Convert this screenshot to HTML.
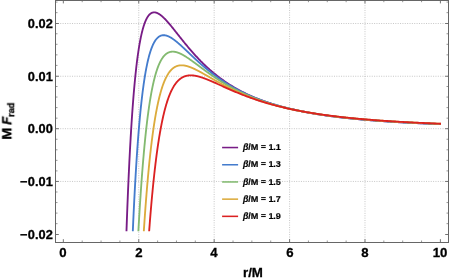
<!DOCTYPE html><html><head><meta charset="utf-8"><title>chart</title><style>
html,body{margin:0;padding:0;background:#fff;overflow:hidden}
html{width:449px;height:280px}
body{width:449px;height:280px;position:relative;overflow:hidden;font-family:"Liberation Sans",sans-serif;font-weight:bold;color:#000}
.t{position:absolute;white-space:nowrap;line-height:1;will-change:transform;-webkit-text-stroke:0.3px #000}
.yl{font-size:12.8px;text-align:right;width:60px;letter-spacing:0.1px}
.xl{font-size:13.2px;text-align:center;width:40px}
.lg{font-size:9.1px;letter-spacing:-0.08px;-webkit-text-stroke:0.2px #000;transform:scaleY(0.97);transform-origin:0 70%}

</style></head><body>
<svg width="449" height="280" viewBox="0 0 449 280" style="position:absolute;left:0;top:0">
<rect width="449" height="280" fill="#fff"/>
<g stroke="#b9b9b9" stroke-width="0.8" stroke-dasharray="1 1.36" fill="none"><line x1="138.75" y1="0.5" x2="138.75" y2="242.5"/><line x1="214.16" y1="0.5" x2="214.16" y2="242.5"/><line x1="289.58" y1="0.5" x2="289.58" y2="242.5"/><line x1="364.99" y1="0.5" x2="364.99" y2="242.5"/><line x1="55.5" y1="181.45" x2="448.5" y2="181.45"/><line x1="55.5" y1="128.70" x2="448.5" y2="128.70"/><line x1="55.5" y1="76.25" x2="448.5" y2="76.25"/><line x1="55.5" y1="23.50" x2="448.5" y2="23.50"/></g>
<g fill="none" stroke-width="1.85" stroke-linejoin="round" stroke-linecap="butt" transform="translate(0,0.4)">
<path stroke="#781c86" d="M126.47,230.87 L126.69,224.70 L126.91,218.69 L127.13,212.84 L127.35,207.14 L127.57,201.59 L127.79,196.19 L128.01,190.93 L128.23,185.80 L128.45,180.81 L128.67,175.95 L128.89,171.21 L129.11,166.60 L129.33,162.10 L129.55,157.73 L129.77,153.46 L129.99,149.31 L130.21,145.27 L130.43,141.33 L130.65,137.49 L130.87,133.75 L131.09,130.11 L131.31,126.56 L131.53,123.10 L131.75,119.74 L131.97,116.46 L132.19,113.27 L132.41,110.16 L132.63,107.13 L132.85,104.18 L133.07,101.30 L133.29,98.51 L133.51,95.78 L133.73,93.13 L133.95,90.54 L134.17,88.03 L134.39,85.58 L134.61,83.19 L134.83,80.87 L135.05,78.61 L135.27,76.41 L135.49,74.27 L135.71,72.18 L135.93,70.15 L136.14,68.18 L136.36,66.26 L136.58,64.39 L136.80,62.57 L137.02,60.80 L137.24,59.08 L137.46,57.41 L137.68,55.78 L137.90,54.20 L138.12,52.66 L138.34,51.17 L138.56,49.71 L138.78,48.30 L139.00,46.93 L139.22,45.59 L139.44,44.30 L139.66,43.04 L139.88,41.82 L140.10,40.63 L140.32,39.48 L140.54,38.37 L140.76,37.28 L140.98,36.23 L141.20,35.21 L141.42,34.22 L141.64,33.26 L141.86,32.33 L142.08,31.43 L142.30,30.56 L142.52,29.71 L142.74,28.90 L142.96,28.11 L143.18,27.34 L143.40,26.60 L143.62,25.88 L143.84,25.19 L144.06,24.52 L144.28,23.88 L144.50,23.26 L144.72,22.65 L144.94,22.07 L145.16,21.52 L145.38,20.98 L145.60,20.46 L145.81,19.96 L146.03,19.48 L146.25,19.02 L146.47,18.58 L146.69,18.16 L146.91,17.75 L147.13,17.36 L147.35,16.99 L147.57,16.63 L147.79,16.29 L148.01,15.96 L148.23,15.65 L148.45,15.36 L148.67,15.08 L148.89,14.81 L149.11,14.56 L149.33,14.32 L149.55,14.10 L149.77,13.88 L149.99,13.68 L150.21,13.50 L150.43,13.32 L150.65,13.16 L150.87,13.01 L151.09,12.87 L151.31,12.74 L151.53,12.62 L151.75,12.51 L151.97,12.42 L152.19,12.33 L152.41,12.25 L152.63,12.18 L152.85,12.13 L153.07,12.08 L153.29,12.04 L153.51,12.01 L153.73,11.98 L153.95,11.97 L154.17,11.96 L154.39,11.97 L154.61,11.97 L154.83,11.99 L155.05,12.02 L155.27,12.05 L155.48,12.09 L155.70,12.14 L155.92,12.19 L156.14,12.25 L156.36,12.31 L156.58,12.39 L156.80,12.47 L157.02,12.55 L157.24,12.64 L157.46,12.74 L157.68,12.84 L157.90,12.95 L158.12,13.06 L158.34,13.18 L158.56,13.30 L158.78,13.43 L159.00,13.56 L159.22,13.70 L159.44,13.84 L159.66,13.99 L159.88,14.14 L160.10,14.29 L160.32,14.45 L160.54,14.62 L160.76,14.78 L160.98,14.95 L161.20,15.13 L161.42,15.31 L161.64,15.49 L161.86,15.68 L162.08,15.86 L162.30,16.06 L162.52,16.25 L162.74,16.45 L162.96,16.65 L163.18,16.86 L163.40,17.06 L163.62,17.27 L163.84,17.49 L164.06,17.70 L164.28,17.92 L164.50,18.14 L164.72,18.36 L164.94,18.59 L165.15,18.81 L165.37,19.04 L165.59,19.27 L165.81,19.51 L166.03,19.74 L166.25,19.98 L166.47,20.22 L166.69,20.46 L166.91,20.70 L167.13,20.95 L167.35,21.19 L167.57,21.44 L167.79,21.69 L168.01,21.94 L168.23,22.20 L168.45,22.45 L168.67,22.70 L168.89,22.96 L169.11,23.22 L169.33,23.48 L169.55,23.74 L169.77,24.00 L169.99,24.26 L170.21,24.52 L170.43,24.79 L170.65,25.05 L170.87,25.32 L171.09,25.59 L171.31,25.85 L171.53,26.12 L171.75,26.39 L171.97,26.66 L172.19,26.93 L172.41,27.20 L172.63,27.47 L172.85,27.75 L173.07,28.02 L173.29,28.29 L173.51,28.57 L173.73,28.84 L173.95,29.12 L174.17,29.39 L174.39,29.67 L174.61,29.94 L174.82,30.22 L175.04,30.50 L175.26,30.77 L175.48,31.05 L175.70,31.33 L175.92,31.60 L176.14,31.88 L176.36,32.16 L176.58,32.44 L176.80,32.71 L177.02,32.99 L177.24,33.27 L177.46,33.55 L177.68,33.83 L177.90,34.10 L178.12,34.38 L178.34,34.66 L178.56,34.94 L178.78,35.22 L179.00,35.49 L179.22,35.77 L179.44,36.05 L179.66,36.33 L179.88,36.60 L180.10,36.88 L180.32,37.16 L180.54,37.43 L180.76,37.71 L180.98,37.99 L181.20,38.26 L181.42,38.54 L181.64,38.81 L181.86,39.09 L182.08,39.36 L182.30,39.64 L182.52,39.91 L182.74,40.18 L182.96,40.46 L183.18,40.73 L183.40,41.00 L183.62,41.27 L183.84,41.55 L184.06,41.82 L184.27,42.09 L184.49,42.36 L184.71,42.63 L184.93,42.90 L185.15,43.17 L185.37,43.43 L185.59,43.70 L185.81,43.97 L186.03,44.24 L186.25,44.50 L186.47,44.77 L186.69,45.04 L186.91,45.30 L187.13,45.56 L187.35,45.83 L187.57,46.09 L187.79,46.35 L188.01,46.62 L188.23,46.88 L188.45,47.14 L188.67,47.40 L188.89,47.66 L189.11,47.92 L189.33,48.18 L189.55,48.44 L189.77,48.69 L189.99,48.95 L190.21,49.21 L190.43,49.46 L190.65,49.72 L190.87,49.97 L191.09,50.23 L191.31,50.48 L191.53,50.73 L191.75,50.98 L191.97,51.23 L192.19,51.48 L192.41,51.73 L192.63,51.98 L192.85,52.23 L193.07,52.48 L193.29,52.73 L193.51,52.97 L193.73,53.22 L193.94,53.46 L194.16,53.71 L194.38,53.95 L194.60,54.20 L194.82,54.44 L195.04,54.68 L195.26,54.92 L195.48,55.16 L195.70,55.40 L195.92,55.64 L196.14,55.88 L196.36,56.11 L196.58,56.35 L196.80,56.59 L197.02,56.82 L197.24,57.06 L197.46,57.29 L197.68,57.53 L197.90,57.76 L198.12,57.99 L198.34,58.22 L198.56,58.45 L198.78,58.68 L199.00,58.91 L199.22,59.14 L199.44,59.37 L199.66,59.59 L199.88,59.82 L200.10,60.04 L200.32,60.27 L200.54,60.49 L200.76,60.72 L200.98,60.94 L201.20,61.16 L201.42,61.38 L201.64,61.60 L201.86,61.82 L202.08,62.04 L202.30,62.26 L202.52,62.48 L202.74,62.69 L202.96,62.91 L203.18,63.13 L203.40,63.34 L203.61,63.55 L203.83,63.77 L204.05,63.98 L204.27,64.19 L204.49,64.40 L204.71,64.61 L204.93,64.82 L205.15,65.03 L205.37,65.24 L205.59,65.45 L205.81,65.65 L206.03,65.86 L206.25,66.07 L206.47,66.27 L206.69,66.48 L206.91,66.68 L207.13,66.88 L207.35,67.08 L207.57,67.28 L207.79,67.49 L208.01,67.69 L208.23,67.88 L208.45,68.08 L208.67,68.28 L208.89,68.48 L209.11,68.67 L209.33,68.87 L209.55,69.07 L209.77,69.26 L209.99,69.45 L210.21,69.65 L210.43,69.84 L210.65,70.03 L210.87,70.22 L211.09,70.41 L211.31,70.60 L211.53,70.79 L211.75,70.98 L211.97,71.17 L212.19,71.35 L212.41,71.54 L212.63,71.73 L212.85,71.91 L213.07,72.09 L213.28,72.28 L213.50,72.46 L213.72,72.64 L213.94,72.83 L214.16,73.01 L215.30,73.93 L216.44,74.85 L217.58,75.74 L218.72,76.62 L219.86,77.48 L221.00,78.32 L222.14,79.15 L223.28,79.96 L224.42,80.76 L225.56,81.54 L226.70,82.31 L227.84,83.06 L228.98,83.80 L230.12,84.53 L231.26,85.24 L232.40,85.93 L233.54,86.62 L234.68,87.29 L235.82,87.94 L236.96,88.59 L238.10,89.22 L239.24,89.84 L240.38,90.45 L241.52,91.05 L242.66,91.63 L243.80,92.21 L244.94,92.77 L246.08,93.32 L247.22,93.87 L248.36,94.40 L249.49,94.92 L250.63,95.43 L251.77,95.94 L252.91,96.43 L254.05,96.92 L255.19,97.39 L256.33,97.86 L257.47,98.32 L258.61,98.76 L259.75,99.21 L260.89,99.64 L262.03,100.06 L263.17,100.48 L264.31,100.89 L265.45,101.29 L266.59,101.69 L267.73,102.08 L268.87,102.46 L270.01,102.83 L271.15,103.20 L272.29,103.56 L273.43,103.91 L274.57,104.26 L275.71,104.60 L276.85,104.94 L277.99,105.27 L279.13,105.59 L280.27,105.91 L281.41,106.22 L282.55,106.53 L283.69,106.83 L284.83,107.13 L285.97,107.42 L287.11,107.70 L288.24,107.99 L289.38,108.26 L290.52,108.53 L291.66,108.80 L292.80,109.06 L293.94,109.32 L295.08,109.58 L296.22,109.83 L297.36,110.07 L298.50,110.31 L299.64,110.55 L300.78,110.78 L301.92,111.01 L303.06,111.24 L304.20,111.46 L305.34,111.68 L306.48,111.89 L307.62,112.11 L308.76,112.31 L309.90,112.52 L311.04,112.72 L312.18,112.92 L313.32,113.11 L314.46,113.30 L315.60,113.49 L316.74,113.68 L317.88,113.86 L319.02,114.04 L320.16,114.22 L321.30,114.39 L322.44,114.56 L323.58,114.73 L324.72,114.90 L325.86,115.06 L326.99,115.22 L328.13,115.38 L329.27,115.54 L330.41,115.69 L331.55,115.84 L332.69,115.99 L333.83,116.14 L334.97,116.29 L336.11,116.43 L337.25,116.57 L338.39,116.71 L339.53,116.84 L340.67,116.98 L341.81,117.11 L342.95,117.24 L344.09,117.37 L345.23,117.49 L346.37,117.62 L347.51,117.74 L348.65,117.86 L349.79,117.98 L350.93,118.10 L352.07,118.22 L353.21,118.33 L354.35,118.44 L355.49,118.55 L356.63,118.66 L357.77,118.77 L358.91,118.88 L360.05,118.98 L361.19,119.09 L362.33,119.19 L363.47,119.29 L364.61,119.39 L365.74,119.49 L366.88,119.58 L368.02,119.68 L369.16,119.77 L370.30,119.86 L371.44,119.95 L372.58,120.04 L373.72,120.13 L374.86,120.22 L376.00,120.31 L377.14,120.39 L378.28,120.48 L379.42,120.56 L380.56,120.64 L381.70,120.72 L382.84,120.80 L383.98,120.88 L385.12,120.96 L386.26,121.03 L387.40,121.11 L388.54,121.18 L389.68,121.26 L390.82,121.33 L391.96,121.40 L393.10,121.47 L394.24,121.54 L395.38,121.61 L396.52,121.68 L397.66,121.75 L398.80,121.81 L399.94,121.88 L401.08,121.94 L402.22,122.01 L403.36,122.07 L404.49,122.13 L405.63,122.20 L406.77,122.26 L407.91,122.32 L409.05,122.38 L410.19,122.43 L411.33,122.49 L412.47,122.55 L413.61,122.61 L414.75,122.66 L415.89,122.72 L417.03,122.77 L418.17,122.82 L419.31,122.88 L420.45,122.93 L421.59,122.98 L422.73,123.03 L423.87,123.08 L425.01,123.13 L426.15,123.18 L427.29,123.23 L428.43,123.28 L429.57,123.33 L430.71,123.37 L431.85,123.42 L432.99,123.47 L434.13,123.51 L435.27,123.56 L436.41,123.60 L437.55,123.65 L438.69,123.69 L439.83,123.73 L440.97,123.77"/>
<path stroke="#447ccd" d="M132.81,230.86 L133.01,226.22 L133.21,221.68 L133.42,217.24 L133.62,212.89 L133.83,208.64 L134.03,204.49 L134.23,200.42 L134.44,196.44 L134.64,192.55 L134.85,188.74 L135.05,185.02 L135.25,181.37 L135.46,177.81 L135.66,174.32 L135.87,170.91 L136.07,167.57 L136.27,164.31 L136.48,161.12 L136.68,157.99 L136.88,154.93 L137.09,151.94 L137.29,149.02 L137.50,146.16 L137.70,143.36 L137.90,140.62 L138.11,137.94 L138.31,135.32 L138.52,132.76 L138.72,130.25 L138.92,127.80 L139.13,125.40 L139.33,123.05 L139.54,120.76 L139.74,118.51 L139.94,116.32 L140.15,114.17 L140.35,112.07 L140.55,110.02 L140.76,108.01 L140.96,106.05 L141.17,104.13 L141.37,102.25 L141.57,100.42 L141.78,98.62 L141.98,96.87 L142.19,95.15 L142.39,93.48 L142.59,91.84 L142.80,90.24 L143.00,88.67 L143.21,87.14 L143.41,85.65 L143.61,84.18 L143.82,82.76 L144.02,81.36 L144.23,80.00 L144.43,78.67 L144.63,77.36 L144.84,76.09 L145.04,74.85 L145.24,73.64 L145.45,72.46 L145.65,71.30 L145.86,70.17 L146.06,69.07 L146.26,67.99 L146.47,66.94 L146.67,65.92 L146.88,64.92 L147.08,63.94 L147.28,62.99 L147.49,62.06 L147.69,61.15 L147.90,60.27 L148.10,59.41 L148.30,58.57 L148.51,57.75 L148.71,56.95 L148.91,56.17 L149.12,55.41 L149.32,54.68 L149.53,53.96 L149.73,53.25 L149.93,52.57 L150.14,51.91 L150.34,51.26 L150.55,50.63 L150.75,50.02 L150.95,49.42 L151.16,48.84 L151.36,48.28 L151.57,47.73 L151.77,47.20 L151.97,46.68 L152.18,46.18 L152.38,45.69 L152.59,45.22 L152.79,44.76 L152.99,44.31 L153.20,43.88 L153.40,43.46 L153.60,43.06 L153.81,42.66 L154.01,42.28 L154.22,41.91 L154.42,41.55 L154.62,41.21 L154.83,40.88 L155.03,40.55 L155.24,40.24 L155.44,39.94 L155.64,39.65 L155.85,39.37 L156.05,39.10 L156.26,38.84 L156.46,38.59 L156.66,38.35 L156.87,38.12 L157.07,37.90 L157.27,37.69 L157.48,37.49 L157.68,37.29 L157.89,37.11 L158.09,36.93 L158.29,36.76 L158.50,36.60 L158.70,36.45 L158.91,36.30 L159.11,36.17 L159.31,36.04 L159.52,35.91 L159.72,35.80 L159.93,35.69 L160.13,35.59 L160.33,35.50 L160.54,35.41 L160.74,35.33 L160.95,35.25 L161.15,35.18 L161.35,35.12 L161.56,35.06 L161.76,35.01 L161.96,34.97 L162.17,34.93 L162.37,34.89 L162.58,34.87 L162.78,34.84 L162.98,34.83 L163.19,34.81 L163.39,34.81 L163.60,34.80 L163.80,34.80 L164.00,34.81 L164.21,34.82 L164.41,34.84 L164.62,34.86 L164.82,34.88 L165.02,34.91 L165.23,34.95 L165.43,34.98 L165.63,35.03 L165.84,35.07 L166.04,35.12 L166.25,35.17 L166.45,35.23 L166.65,35.29 L166.86,35.35 L167.06,35.42 L167.27,35.49 L167.47,35.57 L167.67,35.64 L167.88,35.72 L168.08,35.81 L168.29,35.89 L168.49,35.98 L168.69,36.08 L168.90,36.17 L169.10,36.27 L169.31,36.37 L169.51,36.47 L169.71,36.58 L169.92,36.69 L170.12,36.80 L170.32,36.91 L170.53,37.03 L170.73,37.15 L170.94,37.27 L171.14,37.39 L171.34,37.52 L171.55,37.64 L171.75,37.77 L171.96,37.90 L172.16,38.04 L172.36,38.17 L172.57,38.31 L172.77,38.45 L172.98,38.59 L173.18,38.73 L173.38,38.88 L173.59,39.02 L173.79,39.17 L174.00,39.32 L174.20,39.47 L174.40,39.62 L174.61,39.78 L174.81,39.93 L175.01,40.09 L175.22,40.24 L175.42,40.40 L175.63,40.56 L175.83,40.73 L176.03,40.89 L176.24,41.05 L176.44,41.22 L176.65,41.39 L176.85,41.55 L177.05,41.72 L177.26,41.89 L177.46,42.06 L177.67,42.23 L177.87,42.41 L178.07,42.58 L178.28,42.76 L178.48,42.93 L178.68,43.11 L178.89,43.28 L179.09,43.46 L179.30,43.64 L179.50,43.82 L179.70,44.00 L179.91,44.18 L180.11,44.36 L180.32,44.55 L180.52,44.73 L180.72,44.91 L180.93,45.10 L181.13,45.28 L181.34,45.47 L181.54,45.65 L181.74,45.84 L181.95,46.02 L182.15,46.21 L182.36,46.40 L182.56,46.59 L182.76,46.78 L182.97,46.96 L183.17,47.15 L183.37,47.34 L183.58,47.53 L183.78,47.72 L183.99,47.91 L184.19,48.10 L184.39,48.30 L184.60,48.49 L184.80,48.68 L185.01,48.87 L185.21,49.06 L185.41,49.25 L185.62,49.45 L185.82,49.64 L186.03,49.83 L186.23,50.02 L186.43,50.22 L186.64,50.41 L186.84,50.60 L187.04,50.80 L187.25,50.99 L187.45,51.18 L187.66,51.38 L187.86,51.57 L188.06,51.76 L188.27,51.96 L188.47,52.15 L188.68,52.35 L188.88,52.54 L189.08,52.73 L189.29,52.93 L189.49,53.12 L189.70,53.31 L189.90,53.51 L190.10,53.70 L190.31,53.89 L190.51,54.09 L190.72,54.28 L190.92,54.47 L191.12,54.67 L191.33,54.86 L191.53,55.05 L191.73,55.24 L191.94,55.44 L192.14,55.63 L192.35,55.82 L192.55,56.01 L192.75,56.20 L192.96,56.40 L193.16,56.59 L193.37,56.78 L193.57,56.97 L193.77,57.16 L193.98,57.35 L194.18,57.54 L194.39,57.73 L194.59,57.92 L194.79,58.11 L195.00,58.30 L195.20,58.49 L195.40,58.68 L195.61,58.87 L195.81,59.05 L196.02,59.24 L196.22,59.43 L196.42,59.62 L196.63,59.80 L196.83,59.99 L197.04,60.18 L197.24,60.36 L197.44,60.55 L197.65,60.74 L197.85,60.92 L198.06,61.11 L198.26,61.29 L198.46,61.48 L198.67,61.66 L198.87,61.84 L199.08,62.03 L199.28,62.21 L199.48,62.39 L199.69,62.58 L199.89,62.76 L200.09,62.94 L200.30,63.12 L200.50,63.30 L200.71,63.48 L200.91,63.66 L201.11,63.84 L201.32,64.02 L201.52,64.20 L201.73,64.38 L201.93,64.56 L202.13,64.74 L202.34,64.92 L202.54,65.09 L202.75,65.27 L202.95,65.45 L203.15,65.62 L203.36,65.80 L203.56,65.97 L203.76,66.15 L203.97,66.32 L204.17,66.50 L204.38,66.67 L204.58,66.85 L204.78,67.02 L204.99,67.19 L205.19,67.36 L205.40,67.54 L205.60,67.71 L205.80,67.88 L206.01,68.05 L206.21,68.22 L206.42,68.39 L206.62,68.56 L206.82,68.73 L207.03,68.90 L207.23,69.06 L207.44,69.23 L207.64,69.40 L207.84,69.57 L208.05,69.73 L208.25,69.90 L208.45,70.06 L208.66,70.23 L208.86,70.39 L209.07,70.56 L209.27,70.72 L209.47,70.89 L209.68,71.05 L209.88,71.21 L210.09,71.37 L210.29,71.54 L210.49,71.70 L210.70,71.86 L210.90,72.02 L211.11,72.18 L211.31,72.34 L211.51,72.50 L211.72,72.66 L211.92,72.81 L212.12,72.97 L212.33,73.13 L212.53,73.29 L212.74,73.44 L212.94,73.60 L213.14,73.76 L213.35,73.91 L213.55,74.07 L213.76,74.22 L213.96,74.37 L214.16,74.53 L215.30,75.38 L216.44,76.22 L217.58,77.04 L218.72,77.85 L219.86,78.65 L221.00,79.43 L222.14,80.20 L223.28,80.96 L224.42,81.70 L225.56,82.44 L226.70,83.16 L227.84,83.86 L228.98,84.56 L230.12,85.24 L231.26,85.91 L232.40,86.57 L233.54,87.22 L234.68,87.85 L235.82,88.48 L236.96,89.09 L238.10,89.70 L239.24,90.29 L240.38,90.87 L241.52,91.44 L242.66,92.00 L243.80,92.55 L244.94,93.10 L246.08,93.63 L247.22,94.15 L248.36,94.66 L249.49,95.17 L250.63,95.66 L251.77,96.15 L252.91,96.62 L254.05,97.09 L255.19,97.55 L256.33,98.01 L257.47,98.45 L258.61,98.89 L259.75,99.32 L260.89,99.74 L262.03,100.15 L263.17,100.56 L264.31,100.96 L265.45,101.35 L266.59,101.73 L267.73,102.11 L268.87,102.49 L270.01,102.85 L271.15,103.21 L272.29,103.56 L273.43,103.91 L274.57,104.25 L275.71,104.59 L276.85,104.92 L277.99,105.24 L279.13,105.56 L280.27,105.87 L281.41,106.18 L282.55,106.48 L283.69,106.78 L284.83,107.07 L285.97,107.36 L287.11,107.64 L288.24,107.92 L289.38,108.19 L290.52,108.46 L291.66,108.72 L292.80,108.98 L293.94,109.24 L295.08,109.49 L296.22,109.74 L297.36,109.98 L298.50,110.22 L299.64,110.45 L300.78,110.68 L301.92,110.91 L303.06,111.13 L304.20,111.36 L305.34,111.57 L306.48,111.78 L307.62,111.99 L308.76,112.20 L309.90,112.40 L311.04,112.60 L312.18,112.80 L313.32,113.00 L314.46,113.19 L315.60,113.37 L316.74,113.56 L317.88,113.74 L319.02,113.92 L320.16,114.10 L321.30,114.27 L322.44,114.44 L323.58,114.61 L324.72,114.77 L325.86,114.94 L326.99,115.10 L328.13,115.26 L329.27,115.41 L330.41,115.57 L331.55,115.72 L332.69,115.87 L333.83,116.01 L334.97,116.16 L336.11,116.30 L337.25,116.44 L338.39,116.58 L339.53,116.72 L340.67,116.85 L341.81,116.98 L342.95,117.11 L344.09,117.24 L345.23,117.37 L346.37,117.49 L347.51,117.62 L348.65,117.74 L349.79,117.86 L350.93,117.97 L352.07,118.09 L353.21,118.21 L354.35,118.32 L355.49,118.43 L356.63,118.54 L357.77,118.65 L358.91,118.75 L360.05,118.86 L361.19,118.96 L362.33,119.07 L363.47,119.17 L364.61,119.27 L365.74,119.36 L366.88,119.46 L368.02,119.56 L369.16,119.65 L370.30,119.74 L371.44,119.84 L372.58,119.93 L373.72,120.02 L374.86,120.10 L376.00,120.19 L377.14,120.28 L378.28,120.36 L379.42,120.44 L380.56,120.53 L381.70,120.61 L382.84,120.69 L383.98,120.77 L385.12,120.85 L386.26,120.92 L387.40,121.00 L388.54,121.07 L389.68,121.15 L390.82,121.22 L391.96,121.29 L393.10,121.36 L394.24,121.44 L395.38,121.50 L396.52,121.57 L397.66,121.64 L398.80,121.71 L399.94,121.77 L401.08,121.84 L402.22,121.90 L403.36,121.97 L404.49,122.03 L405.63,122.09 L406.77,122.15 L407.91,122.21 L409.05,122.27 L410.19,122.33 L411.33,122.39 L412.47,122.45 L413.61,122.51 L414.75,122.56 L415.89,122.62 L417.03,122.67 L418.17,122.73 L419.31,122.78 L420.45,122.83 L421.59,122.89 L422.73,122.94 L423.87,122.99 L425.01,123.04 L426.15,123.09 L427.29,123.14 L428.43,123.19 L429.57,123.24 L430.71,123.28 L431.85,123.33 L432.99,123.38 L434.13,123.42 L435.27,123.47 L436.41,123.51 L437.55,123.56 L438.69,123.60 L439.83,123.65 L440.97,123.69"/>
<path stroke="#83ba70" d="M138.37,230.90 L138.56,227.50 L138.75,224.16 L138.94,220.87 L139.13,217.64 L139.32,214.45 L139.51,211.32 L139.70,208.24 L139.89,205.21 L140.08,202.23 L140.27,199.30 L140.46,196.42 L140.65,193.59 L140.84,190.80 L141.03,188.06 L141.22,185.36 L141.41,182.71 L141.60,180.11 L141.79,177.54 L141.98,175.02 L142.17,172.54 L142.36,170.11 L142.55,167.71 L142.74,165.36 L142.93,163.04 L143.12,160.77 L143.31,158.53 L143.50,156.33 L143.69,154.17 L143.88,152.04 L144.06,149.95 L144.25,147.90 L144.44,145.88 L144.63,143.90 L144.82,141.95 L145.01,140.04 L145.20,138.16 L145.39,136.31 L145.58,134.49 L145.77,132.71 L145.96,130.96 L146.15,129.23 L146.34,127.54 L146.53,125.88 L146.72,124.25 L146.91,122.64 L147.10,121.07 L147.29,119.52 L147.48,118.00 L147.67,116.51 L147.86,115.04 L148.05,113.61 L148.24,112.19 L148.43,110.81 L148.62,109.44 L148.81,108.11 L149.00,106.79 L149.19,105.50 L149.38,104.24 L149.57,103.00 L149.76,101.78 L149.95,100.58 L150.14,99.41 L150.33,98.25 L150.52,97.12 L150.71,96.01 L150.90,94.92 L151.09,93.86 L151.28,92.81 L151.47,91.78 L151.66,90.77 L151.85,89.78 L152.04,88.81 L152.23,87.86 L152.42,86.93 L152.61,86.01 L152.80,85.12 L152.99,84.24 L153.18,83.37 L153.37,82.53 L153.56,81.70 L153.75,80.89 L153.94,80.09 L154.13,79.31 L154.32,78.55 L154.51,77.80 L154.70,77.07 L154.89,76.35 L155.08,75.65 L155.27,74.96 L155.46,74.28 L155.65,73.62 L155.84,72.98 L156.03,72.34 L156.22,71.72 L156.41,71.12 L156.60,70.52 L156.79,69.94 L156.98,69.37 L157.17,68.82 L157.36,68.27 L157.55,67.74 L157.74,67.22 L157.93,66.71 L158.12,66.22 L158.31,65.73 L158.50,65.26 L158.69,64.79 L158.88,64.34 L159.07,63.90 L159.26,63.47 L159.45,63.04 L159.64,62.63 L159.83,62.23 L160.02,61.84 L160.21,61.46 L160.40,61.08 L160.59,60.72 L160.78,60.36 L160.97,60.02 L161.16,59.68 L161.35,59.35 L161.54,59.03 L161.73,58.72 L161.92,58.42 L162.11,58.12 L162.30,57.84 L162.49,57.56 L162.68,57.29 L162.87,57.02 L163.06,56.77 L163.25,56.52 L163.44,56.28 L163.63,56.04 L163.82,55.81 L164.01,55.59 L164.20,55.38 L164.39,55.17 L164.58,54.97 L164.77,54.78 L164.96,54.59 L165.15,54.41 L165.34,54.23 L165.53,54.06 L165.72,53.90 L165.91,53.74 L166.10,53.59 L166.29,53.44 L166.48,53.30 L166.67,53.17 L166.86,53.04 L167.05,52.91 L167.24,52.80 L167.43,52.68 L167.62,52.57 L167.81,52.47 L168.00,52.37 L168.19,52.27 L168.38,52.18 L168.57,52.10 L168.76,52.02 L168.95,51.94 L169.14,51.87 L169.33,51.80 L169.52,51.74 L169.71,51.68 L169.90,51.63 L170.09,51.58 L170.28,51.53 L170.47,51.49 L170.66,51.45 L170.85,51.41 L171.04,51.38 L171.23,51.35 L171.42,51.33 L171.61,51.31 L171.80,51.29 L171.99,51.27 L172.18,51.26 L172.37,51.26 L172.56,51.25 L172.75,51.25 L172.94,51.25 L173.13,51.26 L173.32,51.26 L173.51,51.28 L173.70,51.29 L173.89,51.31 L174.08,51.32 L174.27,51.35 L174.46,51.37 L174.65,51.40 L174.84,51.43 L175.03,51.46 L175.22,51.50 L175.41,51.53 L175.60,51.57 L175.79,51.62 L175.98,51.66 L176.17,51.71 L176.36,51.76 L176.55,51.81 L176.74,51.86 L176.93,51.92 L177.12,51.98 L177.31,52.04 L177.50,52.10 L177.69,52.16 L177.88,52.23 L178.07,52.29 L178.26,52.36 L178.45,52.43 L178.64,52.51 L178.83,52.58 L179.02,52.66 L179.21,52.74 L179.40,52.82 L179.59,52.90 L179.78,52.98 L179.97,53.07 L180.16,53.15 L180.35,53.24 L180.54,53.33 L180.73,53.42 L180.92,53.51 L181.11,53.60 L181.30,53.70 L181.49,53.79 L181.68,53.89 L181.87,53.99 L182.06,54.09 L182.25,54.19 L182.44,54.29 L182.63,54.40 L182.82,54.50 L183.01,54.61 L183.20,54.71 L183.39,54.82 L183.58,54.93 L183.77,55.04 L183.96,55.15 L184.15,55.26 L184.34,55.38 L184.53,55.49 L184.72,55.60 L184.91,55.72 L185.10,55.84 L185.29,55.95 L185.48,56.07 L185.67,56.19 L185.86,56.31 L186.05,56.43 L186.24,56.55 L186.43,56.67 L186.62,56.79 L186.81,56.92 L187.00,57.04 L187.19,57.17 L187.38,57.29 L187.57,57.42 L187.76,57.54 L187.95,57.67 L188.14,57.80 L188.33,57.93 L188.52,58.06 L188.71,58.19 L188.90,58.32 L189.09,58.45 L189.28,58.58 L189.47,58.71 L189.66,58.84 L189.85,58.97 L190.04,59.11 L190.23,59.24 L190.42,59.37 L190.61,59.51 L190.80,59.64 L190.99,59.78 L191.18,59.91 L191.37,60.05 L191.56,60.18 L191.75,60.32 L191.94,60.46 L192.13,60.59 L192.32,60.73 L192.51,60.87 L192.70,61.00 L192.89,61.14 L193.08,61.28 L193.27,61.42 L193.46,61.56 L193.65,61.70 L193.84,61.84 L194.03,61.97 L194.22,62.11 L194.41,62.25 L194.60,62.39 L194.79,62.53 L194.98,62.67 L195.17,62.81 L195.36,62.95 L195.55,63.09 L195.74,63.24 L195.93,63.38 L196.12,63.52 L196.31,63.66 L196.50,63.80 L196.69,63.94 L196.88,64.08 L197.07,64.22 L197.26,64.36 L197.45,64.51 L197.64,64.65 L197.83,64.79 L198.02,64.93 L198.21,65.07 L198.40,65.21 L198.59,65.35 L198.78,65.50 L198.97,65.64 L199.16,65.78 L199.35,65.92 L199.54,66.06 L199.73,66.20 L199.92,66.35 L200.11,66.49 L200.30,66.63 L200.49,66.77 L200.68,66.91 L200.87,67.05 L201.06,67.19 L201.25,67.33 L201.44,67.48 L201.63,67.62 L201.82,67.76 L202.01,67.90 L202.20,68.04 L202.39,68.18 L202.58,68.32 L202.77,68.46 L202.96,68.60 L203.15,68.74 L203.34,68.88 L203.53,69.02 L203.72,69.16 L203.91,69.30 L204.10,69.44 L204.29,69.58 L204.48,69.72 L204.67,69.86 L204.86,70.00 L205.05,70.14 L205.24,70.27 L205.43,70.41 L205.62,70.55 L205.81,70.69 L206.00,70.83 L206.19,70.96 L206.38,71.10 L206.57,71.24 L206.76,71.38 L206.95,71.51 L207.14,71.65 L207.33,71.79 L207.52,71.92 L207.71,72.06 L207.89,72.20 L208.08,72.33 L208.27,72.47 L208.46,72.60 L208.65,72.74 L208.84,72.88 L209.03,73.01 L209.22,73.15 L209.41,73.28 L209.60,73.41 L209.79,73.55 L209.98,73.68 L210.17,73.82 L210.36,73.95 L210.55,74.08 L210.74,74.22 L210.93,74.35 L211.12,74.48 L211.31,74.61 L211.50,74.75 L211.69,74.88 L211.88,75.01 L212.07,75.14 L212.26,75.27 L212.45,75.40 L212.64,75.53 L212.83,75.66 L213.02,75.79 L213.21,75.92 L213.40,76.05 L213.59,76.18 L213.78,76.31 L213.97,76.44 L214.16,76.57 L215.30,77.33 L216.44,78.09 L217.58,78.84 L218.72,79.58 L219.86,80.30 L221.00,81.02 L222.14,81.73 L223.28,82.43 L224.42,83.11 L225.56,83.79 L226.70,84.46 L227.84,85.11 L228.98,85.76 L230.12,86.40 L231.26,87.02 L232.40,87.64 L233.54,88.25 L234.68,88.84 L235.82,89.43 L236.96,90.01 L238.10,90.58 L239.24,91.14 L240.38,91.69 L241.52,92.23 L242.66,92.76 L243.80,93.28 L244.94,93.79 L246.08,94.30 L247.22,94.79 L248.36,95.28 L249.49,95.76 L250.63,96.23 L251.77,96.70 L252.91,97.15 L254.05,97.60 L255.19,98.04 L256.33,98.48 L257.47,98.90 L258.61,99.32 L259.75,99.73 L260.89,100.14 L262.03,100.53 L263.17,100.92 L264.31,101.31 L265.45,101.68 L266.59,102.06 L267.73,102.42 L268.87,102.78 L270.01,103.13 L271.15,103.48 L272.29,103.82 L273.43,104.15 L274.57,104.48 L275.71,104.81 L276.85,105.13 L277.99,105.44 L279.13,105.75 L280.27,106.05 L281.41,106.35 L282.55,106.64 L283.69,106.93 L284.83,107.21 L285.97,107.49 L287.11,107.76 L288.24,108.03 L289.38,108.30 L290.52,108.56 L291.66,108.82 L292.80,109.07 L293.94,109.32 L295.08,109.56 L296.22,109.80 L297.36,110.04 L298.50,110.27 L299.64,110.50 L300.78,110.73 L301.92,110.95 L303.06,111.17 L304.20,111.38 L305.34,111.59 L306.48,111.80 L307.62,112.00 L308.76,112.21 L309.90,112.41 L311.04,112.60 L312.18,112.79 L313.32,112.98 L314.46,113.17 L315.60,113.35 L316.74,113.53 L317.88,113.71 L319.02,113.89 L320.16,114.06 L321.30,114.23 L322.44,114.40 L323.58,114.56 L324.72,114.72 L325.86,114.88 L326.99,115.04 L328.13,115.20 L329.27,115.35 L330.41,115.50 L331.55,115.65 L332.69,115.80 L333.83,115.94 L334.97,116.08 L336.11,116.22 L337.25,116.36 L338.39,116.50 L339.53,116.63 L340.67,116.76 L341.81,116.89 L342.95,117.02 L344.09,117.15 L345.23,117.27 L346.37,117.40 L347.51,117.52 L348.65,117.64 L349.79,117.76 L350.93,117.87 L352.07,117.99 L353.21,118.10 L354.35,118.21 L355.49,118.32 L356.63,118.43 L357.77,118.54 L358.91,118.64 L360.05,118.75 L361.19,118.85 L362.33,118.95 L363.47,119.05 L364.61,119.15 L365.74,119.24 L366.88,119.34 L368.02,119.43 L369.16,119.53 L370.30,119.62 L371.44,119.71 L372.58,119.80 L373.72,119.89 L374.86,119.98 L376.00,120.06 L377.14,120.15 L378.28,120.23 L379.42,120.31 L380.56,120.40 L381.70,120.48 L382.84,120.56 L383.98,120.63 L385.12,120.71 L386.26,120.79 L387.40,120.86 L388.54,120.94 L389.68,121.01 L390.82,121.09 L391.96,121.16 L393.10,121.23 L394.24,121.30 L395.38,121.37 L396.52,121.44 L397.66,121.50 L398.80,121.57 L399.94,121.64 L401.08,121.70 L402.22,121.76 L403.36,121.83 L404.49,121.89 L405.63,121.95 L406.77,122.01 L407.91,122.07 L409.05,122.13 L410.19,122.19 L411.33,122.25 L412.47,122.31 L413.61,122.37 L414.75,122.42 L415.89,122.48 L417.03,122.53 L418.17,122.59 L419.31,122.64 L420.45,122.69 L421.59,122.75 L422.73,122.80 L423.87,122.85 L425.01,122.90 L426.15,122.95 L427.29,123.00 L428.43,123.05 L429.57,123.10 L430.71,123.14 L431.85,123.19 L432.99,123.24 L434.13,123.28 L435.27,123.33 L436.41,123.37 L437.55,123.42 L438.69,123.46 L439.83,123.51 L440.97,123.55"/>
<path stroke="#dcab3c" d="M143.81,230.87 L143.98,228.19 L144.16,225.54 L144.34,222.93 L144.51,220.36 L144.69,217.82 L144.87,215.32 L145.04,212.85 L145.22,210.41 L145.39,208.01 L145.57,205.65 L145.75,203.31 L145.92,201.01 L146.10,198.74 L146.28,196.50 L146.45,194.30 L146.63,192.12 L146.81,189.98 L146.98,187.87 L147.16,185.78 L147.33,183.73 L147.51,181.70 L147.69,179.71 L147.86,177.74 L148.04,175.80 L148.22,173.89 L148.39,172.01 L148.57,170.15 L148.74,168.32 L148.92,166.52 L149.10,164.74 L149.27,162.99 L149.45,161.27 L149.63,159.57 L149.80,157.89 L149.98,156.24 L150.16,154.62 L150.33,153.02 L150.51,151.44 L150.68,149.88 L150.86,148.35 L151.04,146.84 L151.21,145.36 L151.39,143.89 L151.57,142.45 L151.74,141.03 L151.92,139.63 L152.10,138.25 L152.27,136.89 L152.45,135.56 L152.62,134.24 L152.80,132.94 L152.98,131.67 L153.15,130.41 L153.33,129.17 L153.51,127.95 L153.68,126.75 L153.86,125.57 L154.03,124.40 L154.21,123.26 L154.39,122.13 L154.56,121.02 L154.74,119.93 L154.92,118.85 L155.09,117.79 L155.27,116.75 L155.45,115.72 L155.62,114.71 L155.80,113.72 L155.97,112.74 L156.15,111.78 L156.33,110.83 L156.50,109.90 L156.68,108.98 L156.86,108.08 L157.03,107.19 L157.21,106.31 L157.39,105.46 L157.56,104.61 L157.74,103.78 L157.91,102.96 L158.09,102.15 L158.27,101.36 L158.44,100.58 L158.62,99.82 L158.80,99.07 L158.97,98.32 L159.15,97.60 L159.32,96.88 L159.50,96.18 L159.68,95.48 L159.85,94.80 L160.03,94.13 L160.21,93.48 L160.38,92.83 L160.56,92.20 L160.74,91.57 L160.91,90.96 L161.09,90.35 L161.26,89.76 L161.44,89.18 L161.62,88.61 L161.79,88.05 L161.97,87.49 L162.15,86.95 L162.32,86.42 L162.50,85.90 L162.68,85.38 L162.85,84.88 L163.03,84.38 L163.20,83.90 L163.38,83.42 L163.56,82.95 L163.73,82.49 L163.91,82.04 L164.09,81.60 L164.26,81.16 L164.44,80.73 L164.61,80.32 L164.79,79.91 L164.97,79.50 L165.14,79.11 L165.32,78.72 L165.50,78.34 L165.67,77.97 L165.85,77.60 L166.03,77.24 L166.20,76.89 L166.38,76.55 L166.55,76.21 L166.73,75.88 L166.91,75.56 L167.08,75.24 L167.26,74.93 L167.44,74.63 L167.61,74.33 L167.79,74.04 L167.97,73.75 L168.14,73.47 L168.32,73.20 L168.49,72.93 L168.67,72.67 L168.85,72.42 L169.02,72.17 L169.20,71.92 L169.38,71.68 L169.55,71.45 L169.73,71.22 L169.90,71.00 L170.08,70.78 L170.26,70.57 L170.43,70.36 L170.61,70.16 L170.79,69.96 L170.96,69.77 L171.14,69.58 L171.32,69.40 L171.49,69.22 L171.67,69.04 L171.84,68.87 L172.02,68.71 L172.20,68.55 L172.37,68.39 L172.55,68.24 L172.73,68.09 L172.90,67.95 L173.08,67.81 L173.26,67.67 L173.43,67.54 L173.61,67.41 L173.78,67.29 L173.96,67.17 L174.14,67.05 L174.31,66.94 L174.49,66.83 L174.67,66.72 L174.84,66.62 L175.02,66.52 L175.19,66.43 L175.37,66.33 L175.55,66.25 L175.72,66.16 L175.90,66.08 L176.08,66.00 L176.25,65.92 L176.43,65.85 L176.61,65.78 L176.78,65.72 L176.96,65.65 L177.13,65.59 L177.31,65.53 L177.49,65.48 L177.66,65.42 L177.84,65.38 L178.02,65.33 L178.19,65.28 L178.37,65.24 L178.54,65.20 L178.72,65.17 L178.90,65.13 L179.07,65.10 L179.25,65.07 L179.43,65.05 L179.60,65.02 L179.78,65.00 L179.96,64.98 L180.13,64.96 L180.31,64.95 L180.48,64.93 L180.66,64.92 L180.84,64.91 L181.01,64.91 L181.19,64.90 L181.37,64.90 L181.54,64.90 L181.72,64.90 L181.90,64.90 L182.07,64.91 L182.25,64.91 L182.42,64.92 L182.60,64.93 L182.78,64.94 L182.95,64.96 L183.13,64.97 L183.31,64.99 L183.48,65.01 L183.66,65.03 L183.83,65.05 L184.01,65.08 L184.19,65.10 L184.36,65.13 L184.54,65.16 L184.72,65.19 L184.89,65.22 L185.07,65.25 L185.25,65.29 L185.42,65.32 L185.60,65.36 L185.77,65.40 L185.95,65.44 L186.13,65.48 L186.30,65.52 L186.48,65.57 L186.66,65.61 L186.83,65.66 L187.01,65.71 L187.19,65.75 L187.36,65.80 L187.54,65.86 L187.71,65.91 L187.89,65.96 L188.07,66.01 L188.24,66.07 L188.42,66.13 L188.60,66.18 L188.77,66.24 L188.95,66.30 L189.12,66.36 L189.30,66.42 L189.48,66.49 L189.65,66.55 L189.83,66.61 L190.01,66.68 L190.18,66.74 L190.36,66.81 L190.54,66.88 L190.71,66.95 L190.89,67.02 L191.06,67.09 L191.24,67.16 L191.42,67.23 L191.59,67.30 L191.77,67.37 L191.95,67.45 L192.12,67.52 L192.30,67.60 L192.48,67.67 L192.65,67.75 L192.83,67.83 L193.00,67.91 L193.18,67.99 L193.36,68.07 L193.53,68.15 L193.71,68.23 L193.89,68.31 L194.06,68.39 L194.24,68.47 L194.41,68.55 L194.59,68.64 L194.77,68.72 L194.94,68.81 L195.12,68.89 L195.30,68.98 L195.47,69.06 L195.65,69.15 L195.83,69.24 L196.00,69.32 L196.18,69.41 L196.35,69.50 L196.53,69.59 L196.71,69.68 L196.88,69.77 L197.06,69.86 L197.24,69.95 L197.41,70.04 L197.59,70.13 L197.77,70.22 L197.94,70.31 L198.12,70.40 L198.29,70.50 L198.47,70.59 L198.65,70.68 L198.82,70.78 L199.00,70.87 L199.18,70.96 L199.35,71.06 L199.53,71.15 L199.70,71.25 L199.88,71.34 L200.06,71.44 L200.23,71.54 L200.41,71.63 L200.59,71.73 L200.76,71.82 L200.94,71.92 L201.12,72.02 L201.29,72.12 L201.47,72.21 L201.64,72.31 L201.82,72.41 L202.00,72.51 L202.17,72.60 L202.35,72.70 L202.53,72.80 L202.70,72.90 L202.88,73.00 L203.06,73.10 L203.23,73.20 L203.41,73.30 L203.58,73.40 L203.76,73.50 L203.94,73.59 L204.11,73.69 L204.29,73.79 L204.47,73.89 L204.64,73.99 L204.82,74.10 L204.99,74.20 L205.17,74.30 L205.35,74.40 L205.52,74.50 L205.70,74.60 L205.88,74.70 L206.05,74.80 L206.23,74.90 L206.41,75.00 L206.58,75.10 L206.76,75.20 L206.93,75.30 L207.11,75.41 L207.29,75.51 L207.46,75.61 L207.64,75.71 L207.82,75.81 L207.99,75.91 L208.17,76.01 L208.35,76.12 L208.52,76.22 L208.70,76.32 L208.87,76.42 L209.05,76.52 L209.23,76.62 L209.40,76.72 L209.58,76.83 L209.76,76.93 L209.93,77.03 L210.11,77.13 L210.28,77.23 L210.46,77.33 L210.64,77.43 L210.81,77.53 L210.99,77.64 L211.17,77.74 L211.34,77.84 L211.52,77.94 L211.70,78.04 L211.87,78.14 L212.05,78.24 L212.22,78.34 L212.40,78.44 L212.58,78.54 L212.75,78.65 L212.93,78.75 L213.11,78.85 L213.28,78.95 L213.46,79.05 L213.64,79.15 L213.81,79.25 L213.99,79.35 L214.16,79.45 L215.30,80.09 L216.44,80.74 L217.58,81.37 L218.72,82.01 L219.86,82.63 L221.00,83.26 L222.14,83.87 L223.28,84.48 L224.42,85.08 L225.56,85.68 L226.70,86.27 L227.84,86.85 L228.98,87.43 L230.12,88.00 L231.26,88.56 L232.40,89.12 L233.54,89.66 L234.68,90.20 L235.82,90.74 L236.96,91.26 L238.10,91.78 L239.24,92.29 L240.38,92.79 L241.52,93.29 L242.66,93.77 L243.80,94.26 L244.94,94.73 L246.08,95.20 L247.22,95.66 L248.36,96.11 L249.49,96.55 L250.63,96.99 L251.77,97.42 L252.91,97.85 L254.05,98.27 L255.19,98.68 L256.33,99.09 L257.47,99.48 L258.61,99.88 L259.75,100.26 L260.89,100.64 L262.03,101.02 L263.17,101.39 L264.31,101.75 L265.45,102.11 L266.59,102.46 L267.73,102.80 L268.87,103.14 L270.01,103.48 L271.15,103.81 L272.29,104.13 L273.43,104.45 L274.57,104.76 L275.71,105.07 L276.85,105.38 L277.99,105.67 L279.13,105.97 L280.27,106.26 L281.41,106.54 L282.55,106.82 L283.69,107.10 L284.83,107.37 L285.97,107.64 L287.11,107.90 L288.24,108.16 L289.38,108.42 L290.52,108.67 L291.66,108.91 L292.80,109.16 L293.94,109.40 L295.08,109.63 L296.22,109.86 L297.36,110.09 L298.50,110.32 L299.64,110.54 L300.78,110.76 L301.92,110.97 L303.06,111.18 L304.20,111.39 L305.34,111.59 L306.48,111.80 L307.62,112.00 L308.76,112.19 L309.90,112.38 L311.04,112.57 L312.18,112.76 L313.32,112.95 L314.46,113.13 L315.60,113.31 L316.74,113.48 L317.88,113.65 L319.02,113.83 L320.16,113.99 L321.30,114.16 L322.44,114.32 L323.58,114.48 L324.72,114.64 L325.86,114.80 L326.99,114.95 L328.13,115.11 L329.27,115.26 L330.41,115.40 L331.55,115.55 L332.69,115.69 L333.83,115.83 L334.97,115.97 L336.11,116.11 L337.25,116.25 L338.39,116.38 L339.53,116.51 L340.67,116.64 L341.81,116.77 L342.95,116.90 L344.09,117.02 L345.23,117.14 L346.37,117.26 L347.51,117.38 L348.65,117.50 L349.79,117.62 L350.93,117.73 L352.07,117.84 L353.21,117.96 L354.35,118.07 L355.49,118.17 L356.63,118.28 L357.77,118.39 L358.91,118.49 L360.05,118.59 L361.19,118.69 L362.33,118.79 L363.47,118.89 L364.61,118.99 L365.74,119.09 L366.88,119.18 L368.02,119.28 L369.16,119.37 L370.30,119.46 L371.44,119.55 L372.58,119.64 L373.72,119.73 L374.86,119.81 L376.00,119.90 L377.14,119.98 L378.28,120.07 L379.42,120.15 L380.56,120.23 L381.70,120.31 L382.84,120.39 L383.98,120.47 L385.12,120.54 L386.26,120.62 L387.40,120.69 L388.54,120.77 L389.68,120.84 L390.82,120.91 L391.96,120.99 L393.10,121.06 L394.24,121.13 L395.38,121.20 L396.52,121.26 L397.66,121.33 L398.80,121.40 L399.94,121.46 L401.08,121.53 L402.22,121.59 L403.36,121.66 L404.49,121.72 L405.63,121.78 L406.77,121.84 L407.91,121.90 L409.05,121.96 L410.19,122.02 L411.33,122.08 L412.47,122.14 L413.61,122.19 L414.75,122.25 L415.89,122.31 L417.03,122.36 L418.17,122.42 L419.31,122.47 L420.45,122.52 L421.59,122.57 L422.73,122.63 L423.87,122.68 L425.01,122.73 L426.15,122.78 L427.29,122.83 L428.43,122.88 L429.57,122.93 L430.71,122.97 L431.85,123.02 L432.99,123.07 L434.13,123.11 L435.27,123.16 L436.41,123.21 L437.55,123.25 L438.69,123.30 L439.83,123.34 L440.97,123.38"/>
<path stroke="#db2122" d="M149.15,230.87 L149.31,228.70 L149.47,226.56 L149.64,224.44 L149.80,222.35 L149.96,220.28 L150.12,218.24 L150.29,216.22 L150.45,214.23 L150.61,212.26 L150.78,210.32 L150.94,208.40 L151.10,206.50 L151.27,204.63 L151.43,202.78 L151.59,200.95 L151.75,199.14 L151.92,197.36 L152.08,195.60 L152.24,193.86 L152.41,192.14 L152.57,190.44 L152.73,188.76 L152.89,187.11 L153.06,185.47 L153.22,183.86 L153.38,182.26 L153.55,180.69 L153.71,179.14 L153.87,177.60 L154.04,176.08 L154.20,174.59 L154.36,173.11 L154.52,171.65 L154.69,170.21 L154.85,168.79 L155.01,167.38 L155.18,165.99 L155.34,164.62 L155.50,163.27 L155.66,161.94 L155.83,160.62 L155.99,159.32 L156.15,158.03 L156.32,156.76 L156.48,155.51 L156.64,154.28 L156.81,153.06 L156.97,151.85 L157.13,150.66 L157.29,149.49 L157.46,148.33 L157.62,147.19 L157.78,146.06 L157.95,144.95 L158.11,143.85 L158.27,142.76 L158.43,141.69 L158.60,140.64 L158.76,139.59 L158.92,138.57 L159.09,137.55 L159.25,136.55 L159.41,135.56 L159.58,134.58 L159.74,133.62 L159.90,132.67 L160.06,131.73 L160.23,130.81 L160.39,129.89 L160.55,128.99 L160.72,128.10 L160.88,127.23 L161.04,126.36 L161.21,125.51 L161.37,124.67 L161.53,123.84 L161.69,123.02 L161.86,122.21 L162.02,121.41 L162.18,120.63 L162.35,119.85 L162.51,119.09 L162.67,118.33 L162.83,117.59 L163.00,116.85 L163.16,116.13 L163.32,115.42 L163.49,114.71 L163.65,114.02 L163.81,113.33 L163.98,112.66 L164.14,111.99 L164.30,111.33 L164.46,110.69 L164.63,110.05 L164.79,109.42 L164.95,108.80 L165.12,108.19 L165.28,107.58 L165.44,106.99 L165.60,106.40 L165.77,105.83 L165.93,105.26 L166.09,104.70 L166.26,104.14 L166.42,103.60 L166.58,103.06 L166.75,102.53 L166.91,102.01 L167.07,101.49 L167.23,100.99 L167.40,100.49 L167.56,100.00 L167.72,99.51 L167.89,99.03 L168.05,98.56 L168.21,98.10 L168.37,97.64 L168.54,97.19 L168.70,96.75 L168.86,96.31 L169.03,95.88 L169.19,95.46 L169.35,95.04 L169.52,94.63 L169.68,94.23 L169.84,93.83 L170.00,93.44 L170.17,93.05 L170.33,92.67 L170.49,92.30 L170.66,91.93 L170.82,91.57 L170.98,91.21 L171.15,90.86 L171.31,90.51 L171.47,90.17 L171.63,89.84 L171.80,89.51 L171.96,89.18 L172.12,88.86 L172.29,88.55 L172.45,88.24 L172.61,87.94 L172.77,87.64 L172.94,87.35 L173.10,87.06 L173.26,86.77 L173.43,86.49 L173.59,86.22 L173.75,85.95 L173.92,85.68 L174.08,85.42 L174.24,85.17 L174.40,84.91 L174.57,84.67 L174.73,84.42 L174.89,84.18 L175.06,83.95 L175.22,83.72 L175.38,83.49 L175.54,83.27 L175.71,83.05 L175.87,82.84 L176.03,82.63 L176.20,82.42 L176.36,82.22 L176.52,82.02 L176.69,81.82 L176.85,81.63 L177.01,81.44 L177.17,81.26 L177.34,81.08 L177.50,80.90 L177.66,80.72 L177.83,80.55 L177.99,80.39 L178.15,80.22 L178.31,80.06 L178.48,79.90 L178.64,79.75 L178.80,79.60 L178.97,79.45 L179.13,79.31 L179.29,79.16 L179.46,79.02 L179.62,78.89 L179.78,78.76 L179.94,78.63 L180.11,78.50 L180.27,78.37 L180.43,78.25 L180.60,78.13 L180.76,78.02 L180.92,77.90 L181.09,77.79 L181.25,77.69 L181.41,77.58 L181.57,77.48 L181.74,77.38 L181.90,77.28 L182.06,77.18 L182.23,77.09 L182.39,77.00 L182.55,76.91 L182.71,76.83 L182.88,76.74 L183.04,76.66 L183.20,76.58 L183.37,76.51 L183.53,76.43 L183.69,76.36 L183.86,76.29 L184.02,76.22 L184.18,76.16 L184.34,76.09 L184.51,76.03 L184.67,75.97 L184.83,75.91 L185.00,75.86 L185.16,75.80 L185.32,75.75 L185.48,75.70 L185.65,75.65 L185.81,75.61 L185.97,75.56 L186.14,75.52 L186.30,75.48 L186.46,75.44 L186.63,75.40 L186.79,75.36 L186.95,75.33 L187.11,75.30 L187.28,75.27 L187.44,75.24 L187.60,75.21 L187.77,75.18 L187.93,75.16 L188.09,75.14 L188.25,75.12 L188.42,75.10 L188.58,75.08 L188.74,75.06 L188.91,75.05 L189.07,75.03 L189.23,75.02 L189.40,75.01 L189.56,75.00 L189.72,74.99 L189.88,74.98 L190.05,74.98 L190.21,74.97 L190.37,74.97 L190.54,74.97 L190.70,74.96 L190.86,74.96 L191.03,74.97 L191.19,74.97 L191.35,74.97 L191.51,74.98 L191.68,74.98 L191.84,74.99 L192.00,75.00 L192.17,75.01 L192.33,75.02 L192.49,75.03 L192.65,75.05 L192.82,75.06 L192.98,75.07 L193.14,75.09 L193.31,75.11 L193.47,75.13 L193.63,75.14 L193.80,75.16 L193.96,75.18 L194.12,75.21 L194.28,75.23 L194.45,75.25 L194.61,75.28 L194.77,75.30 L194.94,75.33 L195.10,75.36 L195.26,75.38 L195.42,75.41 L195.59,75.44 L195.75,75.47 L195.91,75.50 L196.08,75.54 L196.24,75.57 L196.40,75.60 L196.57,75.64 L196.73,75.67 L196.89,75.71 L197.05,75.74 L197.22,75.78 L197.38,75.82 L197.54,75.86 L197.71,75.90 L197.87,75.94 L198.03,75.98 L198.19,76.02 L198.36,76.06 L198.52,76.10 L198.68,76.15 L198.85,76.19 L199.01,76.24 L199.17,76.28 L199.34,76.33 L199.50,76.37 L199.66,76.42 L199.82,76.47 L199.99,76.51 L200.15,76.56 L200.31,76.61 L200.48,76.66 L200.64,76.71 L200.80,76.76 L200.97,76.81 L201.13,76.86 L201.29,76.92 L201.45,76.97 L201.62,77.02 L201.78,77.08 L201.94,77.13 L202.11,77.18 L202.27,77.24 L202.43,77.29 L202.59,77.35 L202.76,77.41 L202.92,77.46 L203.08,77.52 L203.25,77.58 L203.41,77.63 L203.57,77.69 L203.74,77.75 L203.90,77.81 L204.06,77.87 L204.22,77.93 L204.39,77.99 L204.55,78.05 L204.71,78.11 L204.88,78.17 L205.04,78.23 L205.20,78.29 L205.36,78.35 L205.53,78.42 L205.69,78.48 L205.85,78.54 L206.02,78.60 L206.18,78.67 L206.34,78.73 L206.51,78.80 L206.67,78.86 L206.83,78.92 L206.99,78.99 L207.16,79.05 L207.32,79.12 L207.48,79.19 L207.65,79.25 L207.81,79.32 L207.97,79.38 L208.13,79.45 L208.30,79.52 L208.46,79.58 L208.62,79.65 L208.79,79.72 L208.95,79.79 L209.11,79.85 L209.28,79.92 L209.44,79.99 L209.60,80.06 L209.76,80.13 L209.93,80.20 L210.09,80.26 L210.25,80.33 L210.42,80.40 L210.58,80.47 L210.74,80.54 L210.90,80.61 L211.07,80.68 L211.23,80.75 L211.39,80.82 L211.56,80.89 L211.72,80.96 L211.88,81.03 L212.05,81.10 L212.21,81.18 L212.37,81.25 L212.53,81.32 L212.70,81.39 L212.86,81.46 L213.02,81.53 L213.19,81.60 L213.35,81.68 L213.51,81.75 L213.68,81.82 L213.84,81.89 L214.00,81.96 L214.16,82.04 L215.30,82.54 L216.44,83.05 L217.58,83.57 L218.72,84.08 L219.86,84.60 L221.00,85.11 L222.14,85.63 L223.28,86.14 L224.42,86.66 L225.56,87.17 L226.70,87.68 L227.84,88.18 L228.98,88.69 L230.12,89.19 L231.26,89.68 L232.40,90.17 L233.54,90.66 L234.68,91.15 L235.82,91.62 L236.96,92.10 L238.10,92.57 L239.24,93.03 L240.38,93.49 L241.52,93.95 L242.66,94.39 L243.80,94.84 L244.94,95.28 L246.08,95.71 L247.22,96.14 L248.36,96.56 L249.49,96.98 L250.63,97.39 L251.77,97.79 L252.91,98.19 L254.05,98.59 L255.19,98.98 L256.33,99.36 L257.47,99.74 L258.61,100.12 L259.75,100.48 L260.89,100.85 L262.03,101.20 L263.17,101.56 L264.31,101.91 L265.45,102.25 L266.59,102.59 L267.73,102.92 L268.87,103.25 L270.01,103.57 L271.15,103.89 L272.29,104.20 L273.43,104.51 L274.57,104.82 L275.71,105.12 L276.85,105.41 L277.99,105.70 L279.13,105.99 L280.27,106.27 L281.41,106.55 L282.55,106.82 L283.69,107.09 L284.83,107.36 L285.97,107.62 L287.11,107.88 L288.24,108.14 L289.38,108.39 L290.52,108.63 L291.66,108.88 L292.80,109.12 L293.94,109.35 L295.08,109.58 L296.22,109.81 L297.36,110.04 L298.50,110.26 L299.64,110.48 L300.78,110.69 L301.92,110.91 L303.06,111.12 L304.20,111.32 L305.34,111.53 L306.48,111.73 L307.62,111.92 L308.76,112.12 L309.90,112.31 L311.04,112.50 L312.18,112.68 L313.32,112.87 L314.46,113.05 L315.60,113.23 L316.74,113.40 L317.88,113.57 L319.02,113.75 L320.16,113.91 L321.30,114.08 L322.44,114.24 L323.58,114.40 L324.72,114.56 L325.86,114.72 L326.99,114.87 L328.13,115.02 L329.27,115.17 L330.41,115.32 L331.55,115.47 L332.69,115.61 L333.83,115.75 L334.97,115.89 L336.11,116.03 L337.25,116.16 L338.39,116.30 L339.53,116.43 L340.67,116.56 L341.81,116.69 L342.95,116.81 L344.09,116.94 L345.23,117.06 L346.37,117.18 L347.51,117.30 L348.65,117.42 L349.79,117.54 L350.93,117.65 L352.07,117.77 L353.21,117.88 L354.35,117.99 L355.49,118.10 L356.63,118.21 L357.77,118.31 L358.91,118.42 L360.05,118.52 L361.19,118.62 L362.33,118.72 L363.47,118.82 L364.61,118.92 L365.74,119.02 L366.88,119.11 L368.02,119.21 L369.16,119.30 L370.30,119.39 L371.44,119.48 L372.58,119.57 L373.72,119.66 L374.86,119.75 L376.00,119.83 L377.14,119.92 L378.28,120.00 L379.42,120.09 L380.56,120.17 L381.70,120.25 L382.84,120.33 L383.98,120.41 L385.12,120.48 L386.26,120.56 L387.40,120.64 L388.54,120.71 L389.68,120.79 L390.82,120.86 L391.96,120.93 L393.10,121.00 L394.24,121.07 L395.38,121.14 L396.52,121.21 L397.66,121.28 L398.80,121.35 L399.94,121.41 L401.08,121.48 L402.22,121.54 L403.36,121.61 L404.49,121.67 L405.63,121.73 L406.77,121.79 L407.91,121.86 L409.05,121.92 L410.19,121.98 L411.33,122.03 L412.47,122.09 L413.61,122.15 L414.75,122.21 L415.89,122.26 L417.03,122.32 L418.17,122.37 L419.31,122.43 L420.45,122.48 L421.59,122.53 L422.73,122.59 L423.87,122.64 L425.01,122.69 L426.15,122.74 L427.29,122.79 L428.43,122.84 L429.57,122.89 L430.71,122.94 L431.85,122.99 L432.99,123.03 L434.13,123.08 L435.27,123.13 L436.41,123.17 L437.55,123.22 L438.69,123.26 L439.83,123.31 L440.97,123.35"/>
</g>
<path d="M82.19,242.5v-2.0M82.19,0.5v1.7M101.05,242.5v-2.0M101.05,0.5v1.7M119.90,242.5v-2.0M119.90,0.5v1.7M157.61,242.5v-2.0M157.61,0.5v1.7M176.46,242.5v-2.0M176.46,0.5v1.7M195.31,242.5v-2.0M195.31,0.5v1.7M233.02,242.5v-2.0M233.02,0.5v1.7M251.87,242.5v-2.0M251.87,0.5v1.7M270.72,242.5v-2.0M270.72,0.5v1.7M308.43,242.5v-2.0M308.43,0.5v1.7M327.28,242.5v-2.0M327.28,0.5v1.7M346.13,242.5v-2.0M346.13,0.5v1.7M383.84,242.5v-2.0M383.84,0.5v1.7M402.69,242.5v-2.0M402.69,0.5v1.7M421.55,242.5v-2.0M421.55,0.5v1.7M55.5,223.65h2.0M448.5,223.65h-2.0M55.5,213.10h2.0M448.5,213.10h-2.0M55.5,202.55h2.0M448.5,202.55h-2.0M55.5,192.00h2.0M448.5,192.00h-2.0M55.5,170.90h2.0M448.5,170.90h-2.0M55.5,160.35h2.0M448.5,160.35h-2.0M55.5,149.80h2.0M448.5,149.80h-2.0M55.5,139.25h2.0M448.5,139.25h-2.0M55.5,118.15h2.0M448.5,118.15h-2.0M55.5,107.60h2.0M448.5,107.60h-2.0M55.5,97.05h2.0M448.5,97.05h-2.0M55.5,86.50h2.0M448.5,86.50h-2.0M55.5,65.40h2.0M448.5,65.40h-2.0M55.5,54.85h2.0M448.5,54.85h-2.0M55.5,44.30h2.0M448.5,44.30h-2.0M55.5,33.75h2.0M448.5,33.75h-2.0M55.5,12.65h2.0M448.5,12.65h-2.0M55.5,2.10h2.0M448.5,2.10h-2.0" stroke="#6a6a6a" stroke-width="0.7" fill="none"/>
<path d="M63.34,242.5v-3.3M63.34,0.5v2.9M138.75,242.5v-3.3M138.75,0.5v2.9M214.16,242.5v-3.3M214.16,0.5v2.9M289.58,242.5v-3.3M289.58,0.5v2.9M364.99,242.5v-3.3M364.99,0.5v2.9M440.40,242.5v-3.3M440.40,0.5v2.9M55.5,234.50h3.3M448.5,234.50h-3.3M55.5,181.45h3.3M448.5,181.45h-3.3M55.5,128.70h3.3M448.5,128.70h-3.3M55.5,76.25h3.3M448.5,76.25h-3.3M55.5,23.50h3.3M448.5,23.50h-3.3" stroke="#5a5a5a" stroke-width="0.85" fill="none"/>
<rect x="55.5" y="0.5" width="393.0" height="242.0" fill="none" stroke="#666" stroke-width="1"/>
<line x1="222.1" y1="147.55" x2="238.1" y2="147.55" stroke="#781c86" stroke-width="1.55"/>
<line x1="222.1" y1="164.75" x2="238.1" y2="164.75" stroke="#447ccd" stroke-width="1.55"/>
<line x1="222.1" y1="181.95" x2="238.1" y2="181.95" stroke="#83ba70" stroke-width="1.55"/>
<line x1="222.1" y1="199.15" x2="238.1" y2="199.15" stroke="#dcab3c" stroke-width="1.55"/>
<line x1="222.1" y1="216.35" x2="238.1" y2="216.35" stroke="#db2122" stroke-width="1.55"/>
</svg>
<div class="t yl" style="left:-7.1px;top:228.80px">−0.02</div>
<div class="t yl" style="left:-7.1px;top:175.75px">−0.01</div>
<div class="t yl" style="left:-7.1px;top:123.00px">0.00</div>
<div class="t yl" style="left:-7.1px;top:70.55px">0.01</div>
<div class="t yl" style="left:-7.1px;top:17.80px">0.02</div>
<div class="t xl" style="left:43.34px;top:246.30px">0</div>
<div class="t xl" style="left:118.75px;top:246.30px">2</div>
<div class="t xl" style="left:194.16px;top:246.30px">4</div>
<div class="t xl" style="left:269.58px;top:246.30px">6</div>
<div class="t xl" style="left:344.99px;top:246.30px">8</div>
<div class="t xl" style="left:420.40px;top:246.30px">10</div>
<div class="t" style="left:242.5px;top:265.7px;font-size:13.3px">r/M</div>
<div class="t" style="left:0;top:0;font-size:12px;transform-origin:0 0;transform:translate(1.3px,139.8px) rotate(-90deg) scaleX(1.2)">M</div>
<div class="t" style="left:0;top:0;font-size:12px;transform-origin:0 0;transform:translate(1.3px,124.7px) rotate(-90deg) scaleX(1.1)"><i>F</i></div>
<div class="t" style="left:0;top:0;font-size:9.5px;transform-origin:0 0;transform:translate(6.2px,117.0px) rotate(-90deg) scaleX(0.96)">rad</div>
<div class="t lg" style="left:242.6px;top:143.10px"><i style="font-size:8.7px">β</i>/M = 1.1</div>
<div class="t lg" style="left:242.6px;top:160.30px"><i style="font-size:8.7px">β</i>/M = 1.3</div>
<div class="t lg" style="left:242.6px;top:177.50px"><i style="font-size:8.7px">β</i>/M = 1.5</div>
<div class="t lg" style="left:242.6px;top:194.70px"><i style="font-size:8.7px">β</i>/M = 1.7</div>
<div class="t lg" style="left:242.6px;top:211.90px"><i style="font-size:8.7px">β</i>/M = 1.9</div>
</body></html>
